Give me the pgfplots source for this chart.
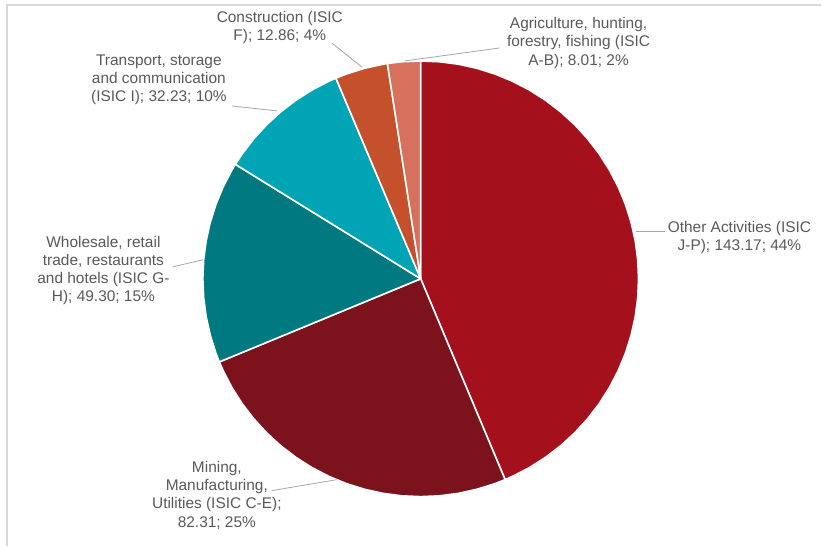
\documentclass[border=0pt]{standalone}
\usepackage{pgfplots}
\pgfplotsset{compat=1.18}
\usepackage{fontspec}
\setmainfont{Liberation Sans}
\definecolor{cOther}{RGB}{165,16,29}
\definecolor{cMining}{RGB}{124,18,27}
\definecolor{cWhole}{RGB}{0,122,128}
\definecolor{cTrans}{RGB}{0,164,180}
\definecolor{cConst}{RGB}{197,80,44}
\definecolor{cAgri}{RGB}{214,113,93}
\definecolor{labgray}{RGB}{89,89,89}
\definecolor{leadgray}{RGB}{166,166,166}
\definecolor{framegray}{RGB}{217,217,217}
\begin{document}
\begin{tikzpicture}
\begin{axis}[hide axis, scale only axis, width=822bp, height=546bp,
  xmin=-421, xmax=401, ymin=-267, ymax=279, clip=false,
  every axis plot/.append style={draw=white, line width=1.6bp, line join=round}]
% Slices (values: 143.17, 82.31, 49.30, 32.23, 12.86, 8.01; total 327.88), polar (angle, radius)
\addplot[fill=cOther, data cs=polar] coordinates {(0,0) (90,218) (85,218) (80,218) (75,218) (70,218) (65,218) (60,218) (55,218) (50,218) (45,218) (40,218) (35,218) (30,218) (25,218) (20,218) (15,218) (10,218) (5,218) (0,218) (-5,218) (-10,218) (-15,218) (-20,218) (-25,218) (-30,218) (-35,218) (-40,218) (-45,218) (-50,218) (-55,218) (-60,218) (-65,218) (-67.2,218) (0,0)};
\addplot[fill=cMining, data cs=polar] coordinates {(0,0) (-67.2,218) (-70,218) (-75,218) (-80,218) (-85,218) (-90,218) (-95,218) (-100,218) (-105,218) (-110,218) (-115,218) (-120,218) (-125,218) (-130,218) (-135,218) (-140,218) (-145,218) (-150,218) (-155,218) (-157.57,218) (0,0)};
\addplot[fill=cWhole, data cs=polar] coordinates {(0,0) (-157.57,218) (-160,218) (-165,218) (-170,218) (-175,218) (-180,218) (-185,218) (-190,218) (-195,218) (-200,218) (-205,218) (-210,218) (-211.7,218) (0,0)};
\addplot[fill=cTrans, data cs=polar] coordinates {(0,0) (148.3,218) (145,218) (140,218) (135,218) (130,218) (125,218) (120,218) (115,218) (112.91,218) (0,0)};
\addplot[fill=cConst, data cs=polar] coordinates {(0,0) (112.91,218) (110,218) (105,218) (100,218) (98.79,218) (0,0)};
\addplot[fill=cAgri, data cs=polar] coordinates {(0,0) (98.79,218) (95,218) (90,218) (0,0)};
% frame (top and left)
\draw[framegray, line width=1.2bp] (-414,-267) -- (-414,274) -- (401,274);
% leader lines
\draw[leadgray, line width=0.8bp] (215,47) -- (244,47);
\draw[leadgray, line width=0.8bp] (-248,12) -- (-218,19);
\draw[leadgray, line width=0.8bp] (-149,-212) -- (-84,-201);
\draw[leadgray, line width=0.8bp] (-189,173) -- (-144,168);
\draw[leadgray, line width=0.8bp] (-89,236) -- (-59,212);
\draw[leadgray, line width=0.8bp] (-16,218) -- (79,231);
% labels
\tikzset{lab/.style={align=center, text=labgray, inner sep=0pt, font=\fontsize{15.5}{18.3}\selectfont}}
\node[lab] at (319,41.5) {Other Activities (ISIC\\J-P); 143.17; 44\%};
\node[lab] at (-204,-216.5) {Mining,\\Manufacturing,\\Utilities (ISIC C-E);\\82.31; 25\%};
\node[lab] at (-317.5,8.3) {Wholesale, retail\\trade, restaurants\\and hotels (ISIC G-\\H); 49.30; 15\%};
\node[lab] at (-262,199) {Transport, storage\\and communication\\(ISIC I); 32.23; 10\%};
\node[lab] at (-141,251.5) {Construction (ISIC\\F); 12.86; 4\%};
\node[lab] at (158,236) {Agriculture, hunting,\\forestry, fishing (ISIC\\A-B); 8.01; 2\%};
\end{axis}
\path (current axis.south west) rectangle (current axis.north east);
\end{tikzpicture}
\end{document}
